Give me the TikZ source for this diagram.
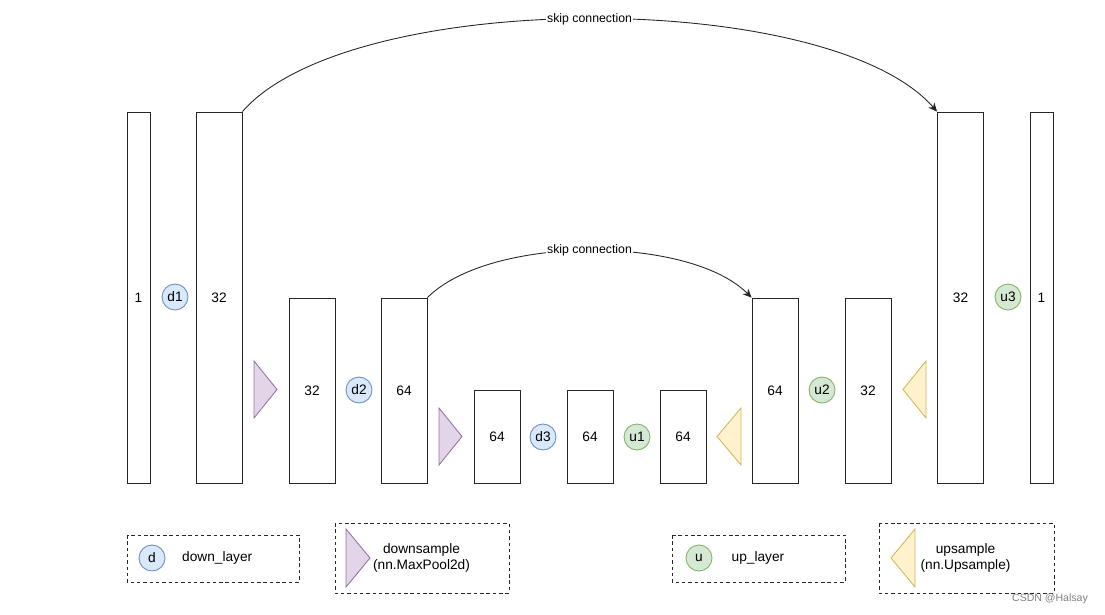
\documentclass[tikz,border=0pt]{standalone}
\usepackage{fontspec}
\setmainfont{Liberation Sans}
\usepackage{xcolor}
\usetikzlibrary{
    arrows.meta,
    calc,
    positioning
}
\definecolor{downfill}{HTML}{DAE8FC}
\definecolor{downline}{HTML}{6C8EBF}
\definecolor{upfill}{HTML}{D5E8D4}
\definecolor{upline}{HTML}{82B366}
\definecolor{poolfill}{HTML}{E1D5E7}
\definecolor{poolline}{HTML}{9673A6}
\definecolor{upsfill}{HTML}{FFF2CC}
\definecolor{upsline}{HTML}{D6B656}
\tikzset{
    every node/.style={font=\fontsize{7.8}{9.4}\selectfont},
    layer/.style={draw=black!85, line width=0.5pt, inner sep=0pt, minimum width=0.92cm},
    thinlayer/.style={layer, minimum width=0.46cm},
    tall/.style={minimum height=7.42cm},
    middle/.style={minimum height=3.7cm},
    short/.style={minimum height=1.86cm},
    downlayer/.style={circle, draw=downline, fill=downfill, line width=0.5pt, minimum size=0.52cm, inner sep=0pt},
    uplayer/.style={circle, draw=upline, fill=upfill, line width=0.5pt, minimum size=0.52cm, inner sep=0pt},
    pooltri/.style={draw=poolline, fill=poolfill, line width=0.5pt, line join=miter},
    upstri/.style={draw=upsline, fill=upsfill, line width=0.5pt, line join=miter},
    skip/.style={draw=black!85, line width=0.5pt, -{Stealth[length=5pt, width=4.5pt]}},
    skiplabel/.style={fill=white, inner sep=0.5pt, font=\fontsize{7}{8}\selectfont},
    legendbox/.style={draw=black!85, line width=0.5pt, dash pattern=on 2pt off 1.6pt}
}
\begin{document}
\begin{tikzpicture}[x=0.02cm, y=-0.02cm]
    \useasboundingbox (0, 0) rectangle (1105, 615);
    % encoder
    \node[thinlayer, tall] (b1) at (138.5, 297.5) {1};
    \node[downlayer] (d1) at (175, 297) {d1};
    \node[layer, tall] (b2) at (219, 297.5) {32};
    \draw[pooltri] (254, 361) -- (277, 389.5) -- (254, 418) -- cycle;
    \node[layer, middle] (b3) at (312, 390.5) {32};
    \node[downlayer] (d2) at (359, 390) {d2};
    \node[layer, middle] (b4) at (404, 390.5) {64};
    \draw[pooltri] (439, 408) -- (462, 436.5) -- (439, 465) -- cycle;
    % bottom
    \node[layer, short] (b5) at (497, 436.5) {64};
    \node[downlayer] (d3) at (543, 437) {d3};
    \node[layer, short] (b6) at (590, 436.5) {64};
    \node[uplayer] (u1) at (637, 437) {u1};
    \node[layer, short] (b7) at (683, 436.5) {64};
    % decoder
    \draw[upstri] (741, 408) -- (717, 436.5) -- (741, 465) -- cycle;
    \node[layer, middle] (b8) at (775, 390.5) {64};
    \node[uplayer] (u2) at (822, 390) {u2};
    \node[layer, middle] (b9) at (868, 390.5) {32};
    \draw[upstri] (926, 361) -- (903, 389.5) -- (926, 418) -- cycle;
    \node[layer, tall] (b10) at (960.5, 297.5) {32};
    \node[uplayer] (u3) at (1008, 297) {u3};
    \node[thinlayer, tall] (b11) at (1041.5, 297.5) {1};
    % skip connections
    \draw[skip] (b2.north east) .. controls (350, -12) and (829, -12) .. (b10.north west)
        node[pos=0.5, skiplabel] (skipa) {skip connection};
    \draw[skip] (b4.north east) .. controls (490, 235) and (689, 235) .. (b8.north west)
        node[pos=0.5, skiplabel] (skipb) {skip connection};
    % legend
    \draw[legendbox] (127, 535) rectangle (299, 582);
    \node[downlayer] (legd) at (152, 558) {d};
    \node[anchor=west] (legdtext) at (176, 558) {down\_layer};
    \draw[legendbox] (335, 523) rectangle (509, 593);
    \draw[pooltri] (346, 529) -- (370, 558) -- (346, 587) -- cycle;
    \node[align=center] (legptext) at (421.5, 558) {downsample\\(nn.MaxPool2d)};
    \draw[legendbox] (672, 535) rectangle (845, 582);
    \node[uplayer] (legu) at (699, 558) {u};
    \node (legutext) at (758, 558) {up\_layer};
    \draw[legendbox] (879, 523) rectangle (1054, 593);
    \draw[upstri] (915, 529) -- (891, 558) -- (915, 587) -- cycle;
    \node[align=center] (legstext) at (965.5, 558) {upsample\\(nn.Upsample)};
    \node[text=black!50, font=\fontsize{6}{7}\selectfont] (mark) at (1050, 599) {CSDN @Halsay};
\end{tikzpicture}
\end{document}
